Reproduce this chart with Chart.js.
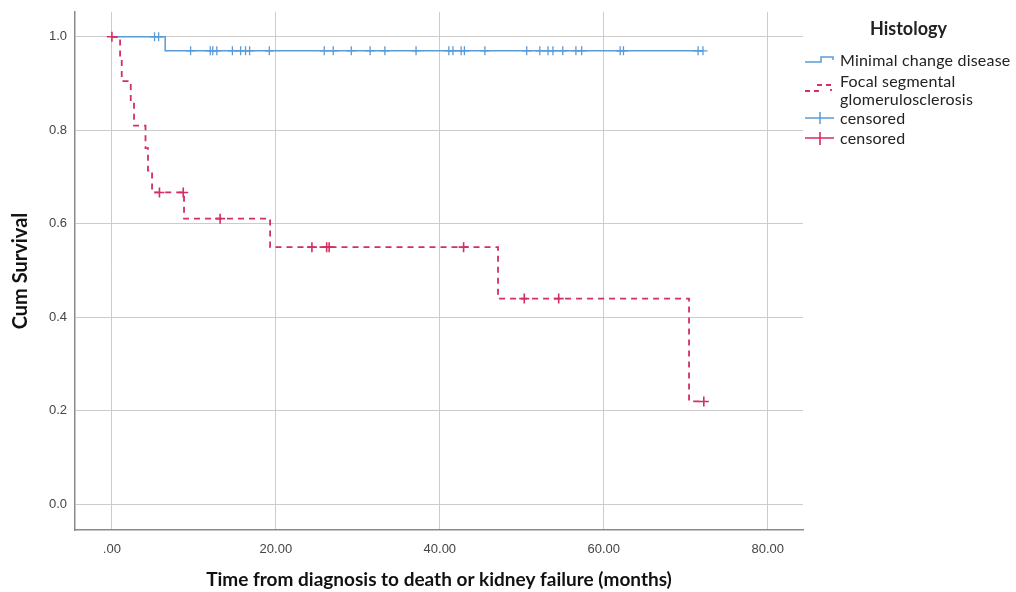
<!DOCTYPE html>
<html>
<head>
<meta charset="utf-8">
<script src="https://cdn.jsdelivr.net/npm/chart.js"></script>
<style>
  body { margin: 0; background: #fff; }
  #wrap { position: relative; width: 1016px; height: 592px; }
  #leyenda { position: absolute; left: 0; top: 0; width: 1016px; height: 592px; pointer-events: none;
    font-family: Lato, "Open Sans", sans-serif; color: #222; }
  #leyenda div { position: absolute; white-space: nowrap; font-size: 16px; line-height: 19px; letter-spacing: 0.2px; }
  #leyenda .titulo { font-weight: bold; font-size: 18px; letter-spacing: 0; }
  #leyenda svg { position: absolute; left: 0; top: 0; }
</style>
</head>
<body>
<div id="wrap">
  <canvas id="graficaKM" width="1016" height="592"></canvas>
  <div id="leyenda">
    <svg width="1016" height="160">
      <path d="M805,62 H821 V57 H833 V60" fill="none" stroke="#5b9bd5" stroke-width="1.5"/>
      <path d="M805,91 H818 V85 H831 V91" fill="none" stroke="#d42f62" stroke-width="1.8" stroke-dasharray="5,4"/>
      <path d="M805,118 H834 M820,112 V124" fill="none" stroke="#5b9bd5" stroke-width="1.5"/>
      <path d="M805,138 H834 M820,132 V145" fill="none" stroke="#d42f62" stroke-width="1.6"/>
    </svg>
    <div class="titulo" style="left:870px; top:19px;">Histology</div>
    <div style="left:840px; top:50px;">Minimal change disease</div>
    <div style="left:840px; top:71px;">Focal segmental</div>
    <div style="left:840px; top:89px;">glomerulosclerosis</div>
    <div style="left:840px; top:108px;">censored</div>
    <div style="left:840px; top:128px;">censored</div>
  </div>
</div>
<script>
// Minimal change disease (escalones)
const mcdTiempos = [0, 6.5, 72.1];
const mcdSuperv = [1.0, 0.97, 0.97];
// Minimal change disease (censurados)
const mcdCensTiempos = [5.2, 5.7, 9.6, 12.0, 12.3, 12.8, 14.7, 15.7, 16.3, 16.8, 19.2, 25.9, 27.0, 29.2,
  31.5, 33.3, 37.1, 41.1, 41.6, 42.6, 43.0, 45.5, 50.6, 52.2, 53.2, 53.8, 55.0, 56.6, 57.3, 62.0, 62.4, 71.5, 72.1];
const mcdCensSuperv = [1.0, 1.0, 0.97, 0.97, 0.97, 0.97, 0.97, 0.97, 0.97, 0.97, 0.97, 0.97, 0.97, 0.97,
  0.97, 0.97, 0.97, 0.97, 0.97, 0.97, 0.97, 0.97, 0.97, 0.97, 0.97, 0.97, 0.97, 0.97, 0.97, 0.97, 0.97, 0.97, 0.97];

// Focal segmental glomerulosclerosis (escalones)
const fsgsTiempos = [0, 1.0, 1.2, 2.3, 2.7, 4.1, 4.4, 4.9, 8.8, 19.3, 47.1, 70.4, 72.2];
const fsgsSuperv = [1.0, 0.952, 0.905, 0.857, 0.81, 0.762, 0.714, 0.667, 0.611, 0.55, 0.44, 0.22, 0.22];
// FSGS (censurados)
const fsgsCensTiempos = [0, 5.8, 8.7, 13.2, 24.4, 26.2, 26.5, 42.9, 50.3, 54.5, 72.2];
const fsgsCensSuperv = [1.0, 0.667, 0.667, 0.611, 0.55, 0.55, 0.55, 0.55, 0.44, 0.44, 0.22];

const ticksX = [0, 20, 40, 60, 80];
const ticksY = [0, 0.2, 0.4, 0.6, 0.8, 1.0];

const azul = "#5b9bd5";
const rojo = "#d42f62";

function puntos(xs, ys) {
  return xs.map((x, i) => ({ x: x, y: ys[i] }));
}

new Chart(document.getElementById("graficaKM"), {
  type: "scatter",
  data: {
    datasets: [
      {
        label: "censored",
        data: puntos(fsgsCensTiempos, fsgsCensSuperv),
        showLine: false,
        pointStyle: "cross",
        pointRadius: 5,
        borderColor: rojo,
        borderWidth: 1.6,
      },
      {
        label: "censored",
        data: puntos(mcdCensTiempos, mcdCensSuperv),
        showLine: false,
        pointStyle: "cross",
        pointRadius: 4.5,
        borderColor: azul,
        borderWidth: 1.3,
      },
      {
        label: "Focal segmental glomerulosclerosis",
        data: puntos(fsgsTiempos, fsgsSuperv),
        showLine: true,
        stepped: true,
        borderColor: rojo,
        borderWidth: 1.8,
        borderDash: [6, 5],
        pointRadius: 0,
      },
      {
        label: "Minimal change disease",
        data: puntos(mcdTiempos, mcdSuperv),
        showLine: true,
        stepped: true,
        borderColor: azul,
        borderWidth: 1.5,
        pointRadius: 0,
      },
    ],
  },
  options: {
    responsive: false,
    animation: false,
    devicePixelRatio: 1,
    layout: { padding: { left: 0, top: 12, right: 213, bottom: 0 } },
    plugins: { legend: { display: false }, tooltip: { enabled: false } },
    scales: {
      x: {
        type: "linear",
        min: -4.5,
        max: 84.3,
        afterBuildTicks: (s) => { s.ticks = ticksX.map((v) => ({ value: v })); },
        afterFit: (s) => { s.height = 62; s.paddingLeft = 0; s.paddingRight = 0; },
        grid: { color: "#cccccc", lineWidth: 1, drawTicks: false },
        border: { color: "#8a8a8a", width: 1.5 },
        ticks: {
          padding: 12,
          color: "#444",
          font: { family: "'Liberation Sans', Arial, sans-serif", size: 13 },
          callback: (v) => (v === 0 ? ".00" : v.toFixed(2)),
        },
        title: {
          display: true,
          text: "Time from diagnosis to death or kidney failure (months)",
          color: "#111",
          font: { family: "Lato, 'Open Sans', sans-serif", size: 19, weight: "bold" },
          padding: { top: 1, bottom: 1 },
        },
      },
      y: {
        min: -0.055,
        max: 1.053,
        afterBuildTicks: (s) => { s.ticks = ticksY.map((v) => ({ value: v })); },
        afterFit: (s) => { s.width = 75; s.paddingTop = 0; s.paddingBottom = 0; },
        grid: { color: "#cccccc", lineWidth: 1, drawTicks: false },
        border: { color: "#8a8a8a", width: 1.5 },
        ticks: {
          padding: 8,
          color: "#444",
          font: { family: "'Liberation Sans', Arial, sans-serif", size: 13 },
          callback: (v) => v.toFixed(1),
        },
        title: {
          display: true,
          text: "Cum Survival",
          color: "#111",
          font: { family: "Lato, 'Open Sans', sans-serif", size: 20, weight: "bold" },
          padding: { top: 9, bottom: 0 },
        },
      },
    },
  },
});
</script>
</body>
</html>
